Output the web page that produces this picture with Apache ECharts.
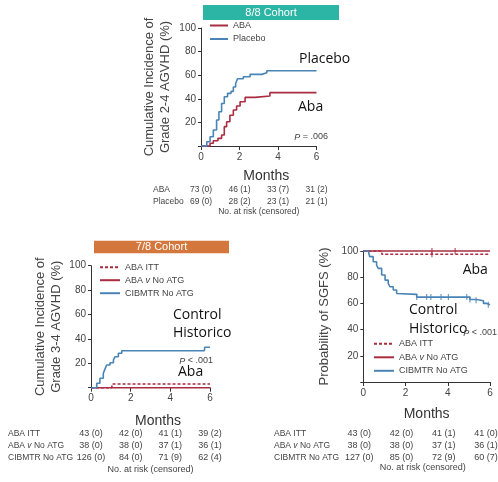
<!DOCTYPE html>
<html>
<head>
<meta charset="utf-8">
<script src="https://cdn.jsdelivr.net/npm/echarts@6/dist/echarts.min.js"></script>
<style>
  html, body { margin: 0; padding: 0; background: #fff; }
  #main { width: 498px; height: 482px; }
</style>
</head>
<body>
<div id="main"></div>
<script>
var FONT = "'Liberation Sans', Arial, sans-serif";
var ANNO = "'Open Sans', 'Noto Sans', sans-serif";
var RED = '#a92c41';
var BLUE = '#4a84b6';

var monthTicks = [0, 2, 4, 6];

// 8/8 cohort, cumulative incidence grade 2-4 (month, %)
var abaTop = [[0,0],[0.3,0],[0.47,2.3],[0.64,4.5],[0.88,6.5],[1.07,9.3],[1.21,16.4],[1.33,20.6],[1.5,26],[1.68,30.5],[1.85,33.9],[2.03,37.5],[2.29,41.2],[2.81,42.4],[3.58,45.2],[6,45.2]];
var placeboTop = [[0,0],[0.3,3.6],[0.47,7.9],[0.64,13.6],[0.81,22],[0.93,29],[1.07,36],[1.21,41.8],[1.38,44.6],[1.56,46.3],[1.68,50],[1.8,53],[1.9,57],[2.2,58.7],[2.55,60.7],[3.16,62],[3.42,63.8],[6,63.8]];
var topRiskNames = ['ABA', 'Placebo'];
var topRisk = [
  ['73 (0)', '46 (1)', '33 (7)', '31 (2)'],
  ['69 (0)', '28 (2)', '23 (1)', '21 (1)']
];

// 7/8 cohort, cumulative incidence grade 3-4 (month, %)
var abaItt78 = [[0,0],[1.05,0],[1.06,3],[6,3]];
var abaNoAtg78 = [[0,0],[6,0]];
var cibmtr78 = [[0,0],[0.29,3.6],[0.45,7.7],[0.62,11.8],[0.7,15],[0.79,18.6],[0.96,20.5],[1.13,22.7],[1.21,25.4],[1.38,28.2],[1.55,30.3],[5.72,30.3],[5.73,33.1],[6,33.1]];
var riskNames78 = ['ABA ITT', 'ABA v No ATG', 'CIBMTR No ATG'];
var risk78 = [
  ['43 (0)', '42 (0)', '41 (1)', '39 (2)'],
  ['38 (0)', '38 (0)', '37 (1)', '36 (1)'],
  ['126 (0)', '84 (0)', '71 (9)', '62 (4)']
];

// SGFS probability (month, %)
var abaIttSg = [[0,100],[0.87,100],[0.88,97.5],[6,97.5]];
var abaNoAtgSg = [[0,100],[6,100]];
var cibmtrSg = [[0,100],[0.24,100],[0.3,95.7],[0.47,91.8],[0.63,89],[0.71,86.7],[0.87,81.7],[1.03,77.8],[1.18,75.3],[1.26,72.7],[1.42,70.2],[1.58,67.6],[1.66,66.9],[2.53,64.8],[5.05,63],[5.37,62],[5.69,60],[5.85,59],[6,59]];
var censorBlueSg = [[2.53,64.8],[3.0,64.8],[3.2,64.8],[3.68,64.8],[4.03,64.8],[4.9,64.8],[5.05,63],[5.34,62.5],[5.92,59]];
var censorRedSg = [[3.25,100],[4.35,100]];
var censorIttSg = [[3.25,97.5]];
var riskSg = [
  ['43 (0)', '42 (0)', '41 (1)', '41 (0)'],
  ['38 (0)', '38 (0)', '37 (1)', '36 (1)'],
  ['127 (0)', '85 (0)', '72 (9)', '60 (7)']
];

var chart = echarts.init(document.getElementById('main'));

function xAx(gi, gap, pad) {
  return {
    gridIndex: gi, type: 'value', min: 0, max: 6, interval: 2,
    name: 'Months', nameLocation: 'middle', nameGap: gap,
    nameTextStyle: { fontFamily: FONT, fontSize: 14, color: '#333', padding: [0, 0, 0, pad] },
    axisLine: { lineStyle: { color: '#333', width: 1 } },
    axisTick: { length: 4, lineStyle: { color: '#333' } },
    axisLabel: { fontFamily: FONT, fontSize: 10, color: '#444', margin: 6 },
    splitLine: { show: false }
  };
}
function yAx(gi, name, gap) {
  return {
    gridIndex: gi, type: 'value', min: 0, max: 100, interval: 20,
    name: name, nameLocation: 'middle', nameGap: gap,
    nameTextStyle: { fontFamily: FONT, fontSize: 13, color: '#444', lineHeight: 16 },
    axisLine: { show: true, lineStyle: { color: '#333', width: 1 } },
    axisTick: { show: true, length: 3, lineStyle: { color: '#333' } },
    axisLabel: { fontFamily: FONT, fontSize: 10, color: '#444', margin: 5,
      formatter: function (v) { return v === 0 ? '' : v; } },
    splitLine: { show: false }
  };
}
function km(name, gi, data, color, dashed) {
  return {
    name: name, type: 'line', step: 'end', xAxisIndex: gi, yAxisIndex: gi,
    data: data, symbol: 'none', clip: false, animation: false,
    lineStyle: { color: color, width: 1.6, type: dashed ? [3, 2] : 'solid' },
    itemStyle: { color: color, opacity: 0 }
  };
}
function ticks(gi, data, color) {
  return {
    type: 'scatter', xAxisIndex: gi, yAxisIndex: gi, data: data,
    symbol: 'rect', symbolSize: [1.2, 6], itemStyle: { color: color },
    animation: false, silent: true
  };
}
var italicV = function (n) { return n.replace(' v ', ' {i|v} '); };
var legendText = { fontFamily: FONT, fontSize: 9, color: '#444',
  rich: { i: { fontFamily: FONT, fontSize: 9, color: '#444', fontStyle: 'italic' } } };
var legendBase = { orient: 'vertical', padding: 0, itemHeight: 10, selectedMode: false,
  textStyle: legendText, itemStyle: { opacity: 0 } };
function leg(extra) {
  var o = {};
  for (var k in legendBase) o[k] = legendBase[k];
  for (var j in extra) o[j] = extra[j];
  return o;
}

chart.setOption({
  animation: false,
  grid: [
    { left: 201, top: 28, width: 115.5, height: 118 },
    { left: 91, top: 265.7, width: 119, height: 122 },
    { left: 363.3, top: 251, width: 126.7, height: 131 }
  ],
  xAxis: [xAx(0, 23, 15), xAx(1, 26, 15), xAx(2, 25, 0)],
  yAxis: [
    yAx(0, 'Cumulative Incidence of\nGrade 2-4 AGVHD (%)', 28),
    yAx(1, 'Cumulative Incidence of\nGrade 3-4 AGVHD (%)', 27),
    yAx(2, 'Probability of SGFS (%)', 31)
  ],
  legend: [
    leg({ data: ['ABA', 'Placebo'], left: 209, top: 21, itemWidth: 18, itemGap: 4.5 }),
    leg({ data: riskNames78, left: 99, top: 262.7, itemWidth: 20, itemGap: 4, formatter: italicV }),
    leg({ data: riskNames78, left: 373, top: 339.3, itemWidth: 20, itemGap: 4.5, formatter: italicV })
  ],
  series: [
    km('ABA', 0, abaTop, RED),
    km('Placebo', 0, placeboTop, BLUE),
    km('ABA v No ATG', 1, abaNoAtg78, RED),
    km('ABA ITT', 1, abaItt78, RED, true),
    km('CIBMTR No ATG', 1, cibmtr78, BLUE),
    km('ABA v No ATG', 2, abaNoAtgSg, RED),
    km('ABA ITT', 2, abaIttSg, RED, true),
    km('CIBMTR No ATG', 2, cibmtrSg, BLUE),
    ticks(2, censorBlueSg, BLUE),
    ticks(2, censorRedSg, RED),
    ticks(2, censorIttSg, RED)
  ]
});

// header boxes, annotations and at-risk tables
var g = [];
function txt(x, y, s, font, opts) {
  var st = { text: s, x: x, y: y, font: font, fill: '#333',
    textAlign: 'left', textVerticalAlign: 'middle', align: 'left', verticalAlign: 'middle' };
  for (var k in (opts || {})) st[k] = opts[k];
  if (st.textAlign) st.align = st.textAlign;
  g.push({ type: 'text', silent: true, style: st });
}
function header(x, y, w, h, color, label) {
  g.push({ type: 'rect', shape: { x: x, y: y, width: w, height: h }, style: { fill: color }, silent: true });
  txt(x + w / 2, y + h / 2 + 0.5, label, '11px ' + FONT, { fill: '#fff', textAlign: 'center' });
}
header(203, 5, 136, 15, '#2cb4a5', '8/8 Cohort');
header(94, 240.7, 135, 12.5, '#d4773c', '7/8 Cohort');

var annoFont = '14px ' + ANNO;
txt(299, 59, 'Placebo', annoFont, { fill: '#111' });
txt(298, 107, 'Aba', annoFont, { fill: '#111' });
txt(173, 315, 'Control', annoFont, { fill: '#111' });
txt(173, 333, 'Historico', annoFont, { fill: '#111' });
txt(178, 372, 'Aba', annoFont, { fill: '#111' });
txt(462.7, 270, 'Aba', annoFont, { fill: '#111' });
txt(409, 310, 'Control', annoFont, { fill: '#111' });
txt(409, 329, 'Historico', annoFont, { fill: '#111' });

var pRich = { i: { fontStyle: 'italic', fontFamily: FONT, fontSize: 9, fill: '#444' } };
txt(328, 137, '{i|P} = .006', '9px ' + FONT, { textAlign: 'right', rich: pRich, fill: '#444' });
txt(213, 361, '{i|P} < .001', '9px ' + FONT, { textAlign: 'right', rich: pRich, fill: '#444' });
txt(497, 333, '{i|P} < .001', '9px ' + FONT, { textAlign: 'right', rich: pRich, fill: '#444' });

function riskTable(axisIdx, labelX, rows, names, y0, dy, shift, footY, size, nameSize) {
  var tFont = size + 'px ' + FONT;
  var nFont = nameSize + 'px ' + FONT;
  var tRich = { i: { fontStyle: 'italic', fontFamily: FONT, fontSize: nameSize, fill: '#444' } };
  names.forEach(function (n, r) {
    var y = y0 + r * dy;
    txt(labelX, y, n.replace(' v ', ' {i|v} '), nFont, { fill: '#444', rich: tRich });
    monthTicks.forEach(function (m, c) {
      var px = chart.convertToPixel({ xAxisIndex: axisIdx }, m) + shift;
      txt(px, y, rows[r][c], tFont, { fill: '#444', textAlign: 'center' });
    });
  });
  var mid = chart.convertToPixel({ xAxisIndex: axisIdx }, 3) + shift;
  txt(mid, footY, 'No. at risk (censored)', tFont, { fill: '#444', textAlign: 'center' });
}
riskTable(0, 153, topRisk, topRiskNames, 190, 11.5, 0, 212, 8.5, 8.5);
riskTable(1, 8, risk78, riskNames78, 433.7, 12, 0, 470, 9, 8.5);
riskTable(2, 274, riskSg, riskNames78, 433.7, 12, -4, 468, 9, 8.5);

chart.setOption({ graphic: { elements: g } });
</script>
</body>
</html>
